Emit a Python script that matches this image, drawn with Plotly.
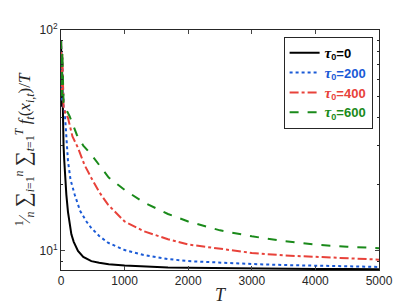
import plotly.graph_objects as go

# ---- data ----
T_black = [1, 5, 10, 16, 20, 25, 31, 40, 50, 60, 84, 110, 130, 163, 200, 267, 350, 477, 600, 750,
           1000, 1300, 1682, 2000, 2500, 3000, 3500, 4000, 4500, 5000]
y_black = [90, 55, 80, 45, 62, 42, 36, 30, 26, 22.5, 18, 15, 13.5, 11.9, 11, 10, 9.4, 9.0, 8.85, 8.72,
           8.6, 8.5, 8.43, 8.4, 8.36, 8.33, 8.31, 8.29, 8.28, 8.27]

T_blue = [1, 5, 10, 15, 20, 30, 40, 58, 80, 110, 150, 215, 300, 400, 477, 600, 739,
          1000, 1300, 1682, 2000, 2500, 3000, 3500, 4000, 4500, 5000]
y_blue = [90, 50, 85, 48, 75, 55, 45, 42.9, 33, 25.5, 21, 18, 15.2, 13.6, 12.7, 11.7, 10.9,
          10.1, 9.6, 9.2, 9.0, 8.85, 8.73, 8.64, 8.57, 8.52, 8.47]

T_red = [1, 5, 10, 15, 20, 30, 40, 50, 70, 110, 180, 267, 370, 477, 600, 739,
         1000, 1300, 1682, 2000, 2500, 3000, 3500, 4000, 4500, 5000]
y_red = [90, 55, 85, 50, 78, 52, 45, 44, 42, 40, 33, 29.3, 24.5, 21.4, 18.5, 16.2,
         13.6, 12.3, 11.3, 10.7, 10.2, 9.8, 9.55, 9.4, 9.25, 9.14]

T_green = [1, 5, 10, 15, 20, 30, 40, 60, 90, 137, 250, 350, 477, 600, 750,
           1000, 1300, 1682, 2000, 2500, 3000, 3500, 4000, 4500, 5000]
y_green = [90, 55, 88, 50, 80, 55, 47, 45, 43, 40.6, 33.5, 30, 27.3, 24.5, 21.5,
           18.9, 16.6, 14.7, 13.6, 12.4, 11.65, 11.1, 10.68, 10.45, 10.3]

labels = ["0", "200", "400", "600"]
x_ticks = [0, 1000, 2000, 3000, 4000, 5000]
y_ticks = [10, 100]
y_ticktext = ["10<sup>1</sup>", "10<sup>2</sup>"]

colors = ["#000000", "#1a5ad6", "#e8423a", "#1a8a1a"]
dashes = ["solid", "dot", "dashdot", "dash"]
series = [(T_black, y_black), (T_blue, y_blue), (T_red, y_red), (T_green, y_green)]

fig = go.Figure()
for (tx, ty), lab, c, d in zip(series, labels, colors, dashes):
    name = (f"<span style='color:{c}'><b><i style='font-family:Liberation Serif;font-size:15px'>τ</i>"
            f"<sub>0</sub>={lab}</b></span>")
    fig.add_trace(go.Scatter(x=tx, y=ty, mode="lines", name=name,
                             line=dict(color=c, width=2, dash=d)))

axcol = "#262626"
fig.update_layout(
    width=409, height=307,
    margin=dict(l=53, r=38, t=22, b=45),
    paper_bgcolor="white", plot_bgcolor="white",
    font=dict(family="Liberation Sans, Arial", size=12, color=axcol),
    showlegend=True,
    legend=dict(x=0.70, y=0.972, xanchor="left", yanchor="top",
                bordercolor=axcol, borderwidth=1, bgcolor="white",
                font=dict(size=13, family="Liberation Sans, Arial"),
                tracegroupgap=0, itemwidth=30),
)
fig.update_xaxes(
    range=[0, 5000], tickvals=x_ticks, ticks="inside", ticklen=4,
    showline=True, linecolor=axcol, linewidth=1, mirror="ticks",
    showgrid=False, zeroline=False,
    title=dict(text="<i>T</i>", font=dict(family="Liberation Serif", size=18), standoff=0),
)
S = "<span style='font-size:21px'>∑</span>"
fig.update_yaxes(
    type="log", range=[0.914, 2.0], tickvals=y_ticks, ticktext=y_ticktext,
    ticks="inside", ticklen=4,
    minor=dict(ticks="inside", ticklen=2, tickvals=[9, 20, 30, 40, 50, 60, 70, 80, 90],
               tickcolor=axcol),
    showline=True, linecolor=axcol, linewidth=1, mirror="ticks",
    showgrid=False, zeroline=False,
    title=dict(text=f"<sup>1</sup>⁄<sub><i>n</i></sub> {S}<sub><i>i</i>=1</sub><sup><i>n</i></sup> "
                    f"{S}<sub><i>t</i>=1</sub><sup><i>T</i></sup> <i>f<sub>t</sub></i>(<i>x<sub>i,t</sub></i>)/<i>T</i>",
               font=dict(family="Liberation Serif", size=17), standoff=4),
)

fig.write_html("out.html")
